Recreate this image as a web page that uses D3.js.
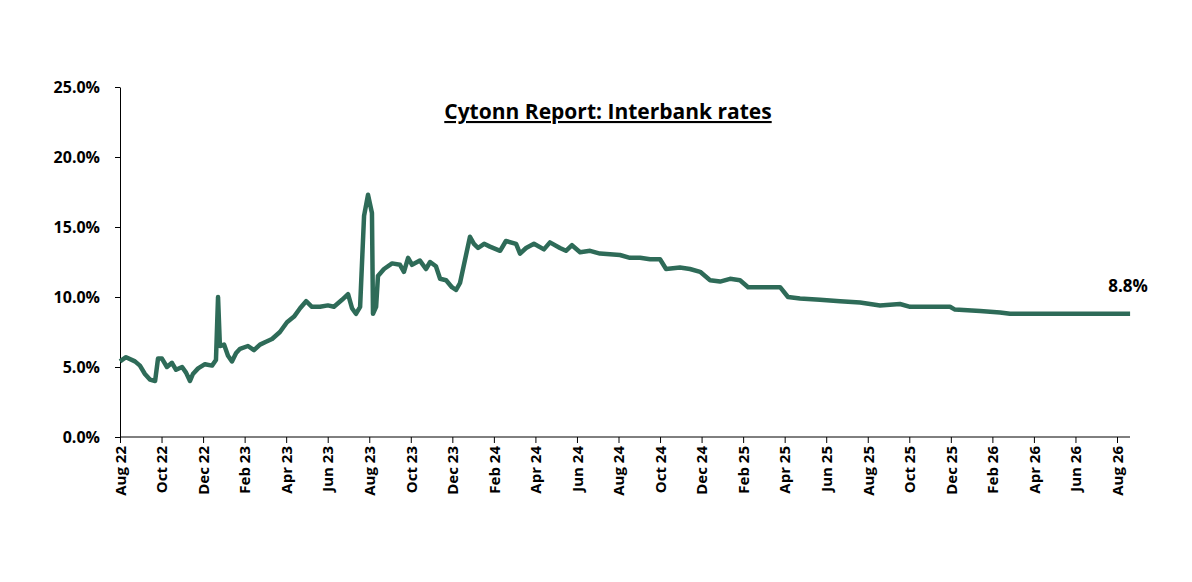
<!DOCTYPE html>
<html>
<head>
<meta charset="utf-8">
<script src="https://cdn.jsdelivr.net/npm/d3@7"></script>
<style>
  body { margin: 0; background: #fff; }
  text { font-family: "Open Sans", "Liberation Sans", sans-serif; }
</style>
</head>
<body>
<div id="chart"></div>
<script>
var svgWidth = 1192;
var svgHeight = 582;

var margin = { top: 87, right: 62, bottom: 145, left: 120 };
var chartWidth = svgWidth - margin.left - margin.right;
var chartHeight = svgHeight - margin.top - margin.bottom;

// Months since Aug 2022
var months = [0, 0.29, 0.72, 0.96, 1.2, 1.44, 1.69, 1.83, 2.02, 2.26, 2.5, 2.7, 2.99, 3.18, 3.37, 3.51, 3.76, 4.09, 4.43, 4.62, 4.72, 4.81, 5.01, 5.2, 5.39, 5.59, 5.78, 6.16, 6.45, 6.74, 7.03, 7.32, 7.7, 8.04, 8.38, 8.67, 8.96, 9.24, 9.63, 10.01, 10.3, 10.69, 10.98, 11.17, 11.36, 11.56, 11.75, 11.94, 12.13, 12.18, 12.33, 12.42, 12.71, 13.1, 13.48, 13.67, 13.87, 14.06, 14.44, 14.73, 14.93, 15.21, 15.41, 15.7, 15.98, 16.18, 16.37, 16.66, 16.85, 17.04, 17.24, 17.53, 17.81, 18.3, 18.58, 19.07, 19.26, 19.55, 19.93, 20.41, 20.7, 21.18, 21.47, 21.76, 22.15, 22.63, 23.11, 24.07, 24.55, 25.04, 25.52, 26, 26.29, 26.96, 27.44, 27.93, 28.41, 28.89, 29.37, 29.85, 30.24, 30.81, 31.78, 32.16, 32.74, 33.7, 34.67, 35.63, 36.59, 37.55, 38.04, 39.96, 40.2, 41.41, 42.37, 42.85, 43.81, 48.63];
// Interbank rate (%)
var rates = [5.4, 5.7, 5.4, 5.1, 4.5, 4.1, 4.0, 5.6, 5.6, 5.0, 5.3, 4.8, 5.0, 4.6, 4.0, 4.5, 4.9, 5.2, 5.1, 5.5, 10.0, 6.5, 6.6, 5.8, 5.4, 6.0, 6.3, 6.5, 6.2, 6.6, 6.8, 7.0, 7.5, 8.2, 8.6, 9.2, 9.7, 9.3, 9.3, 9.4, 9.3, 9.8, 10.2, 9.2, 8.8, 9.3, 15.8, 17.3, 16.0, 8.8, 9.3, 11.5, 12.0, 12.4, 12.3, 11.8, 12.8, 12.3, 12.6, 12.0, 12.5, 12.2, 11.3, 11.2, 10.7, 10.5, 11.0, 13.0, 14.3, 13.8, 13.5, 13.8, 13.6, 13.3, 14.0, 13.8, 13.1, 13.5, 13.8, 13.4, 13.9, 13.5, 13.3, 13.7, 13.2, 13.3, 13.1, 13.0, 12.8, 12.8, 12.7, 12.7, 12.0, 12.1, 12.0, 11.8, 11.2, 11.1, 11.3, 11.2, 10.7, 10.7, 10.7, 10.0, 9.9, 9.8, 9.7, 9.6, 9.4, 9.5, 9.3, 9.3, 9.1, 9.0, 8.9, 8.8, 8.8, 8.8];

var tickLabels = ["Aug 22", "Oct 22", "Dec 22", "Feb 23", "Apr 23", "Jun 23", "Aug 23", "Oct 23", "Dec 23", "Feb 24", "Apr 24", "Jun 24", "Aug 24", "Oct 24", "Dec 24", "Feb 25", "Apr 25", "Jun 25", "Aug 25", "Oct 25", "Dec 25", "Feb 26", "Apr 26", "Jun 26", "Aug 26"];
var yTicks = [0, 5, 10, 15, 20, 25];

var data = months.map(function (m, i) { return { m: m, v: rates[i] }; });

var svg = d3.select('#chart').append('svg')
    .attr('width', svgWidth)
    .attr('height', svgHeight);

var chartGroup = svg.append('g')
    .attr('transform', `translate(${margin.left}, ${margin.top})`);

var xScale = d3.scaleLinear().domain([0, 48]).range([0, 997]);
var yScale = d3.scaleLinear().domain([0, 25]).range([chartHeight, 0]);

// X axis
var bottomAxis = d3.axisBottom(xScale)
    .tickValues(tickLabels.map((d, i) => i * 2))
    .tickFormat((d, i) => tickLabels[i])
    .tickSizeOuter(0).tickSize(6);
var xg = chartGroup.append('g')
    .attr('transform', `translate(0, ${chartHeight})`)
    .call(bottomAxis);
xg.select('.domain').attr('stroke', '#000').attr('d', `M0,0H${chartWidth}`);
xg.selectAll('line').attr('stroke', '#000');
xg.selectAll('text')
    .attr('transform', 'rotate(-90)')
    .attr('x', -9).attr('y', 0).attr('dy', '0.35em')
    .style('text-anchor', 'end')
    .style('font-size', '15px').style('font-weight', 'bold').attr('fill', '#000');

// Y axis
var leftAxis = d3.axisLeft(yScale).tickValues(yTicks)
    .tickFormat(d => d.toFixed(1) + '%').tickSize(5).tickSizeOuter(0);
var yg = chartGroup.append('g').call(leftAxis);
yg.select('.domain').attr('stroke', '#000');
yg.selectAll('line').attr('stroke', '#000');
yg.selectAll('text').attr('x', -20)
    .style('font-size', '16px').style('font-weight', 'bold').attr('fill', '#000');

// Line
var line = d3.line().x(d => xScale(d.m)).y(d => yScale(d.v));
chartGroup.append('path')
    .datum(data)
    .attr('fill', 'none')
    .attr('stroke', '#2e6b58')
    .attr('stroke-width', 4.5)
    .attr('stroke-linejoin', 'round')
    .attr('d', line);

// End label
var last = data[data.length - 1];
chartGroup.append('text')
    .attr('x', xScale(last.m) - 2)
    .attr('y', yScale(last.v) - 22)
    .style('text-anchor', 'middle')
    .style('font-size', '17px').style('font-weight', 'bold')
    .text(last.v.toFixed(1) + '%');

// Title
svg.append('text')
    .attr('x', 608).attr('y', 119)
    .style('text-anchor', 'middle')
    .style('font-size', '21px').style('font-weight', 'bold')
    .style('text-decoration', 'underline')
    .text('Cytonn Report: Interbank rates');
</script>
</body>
</html>
